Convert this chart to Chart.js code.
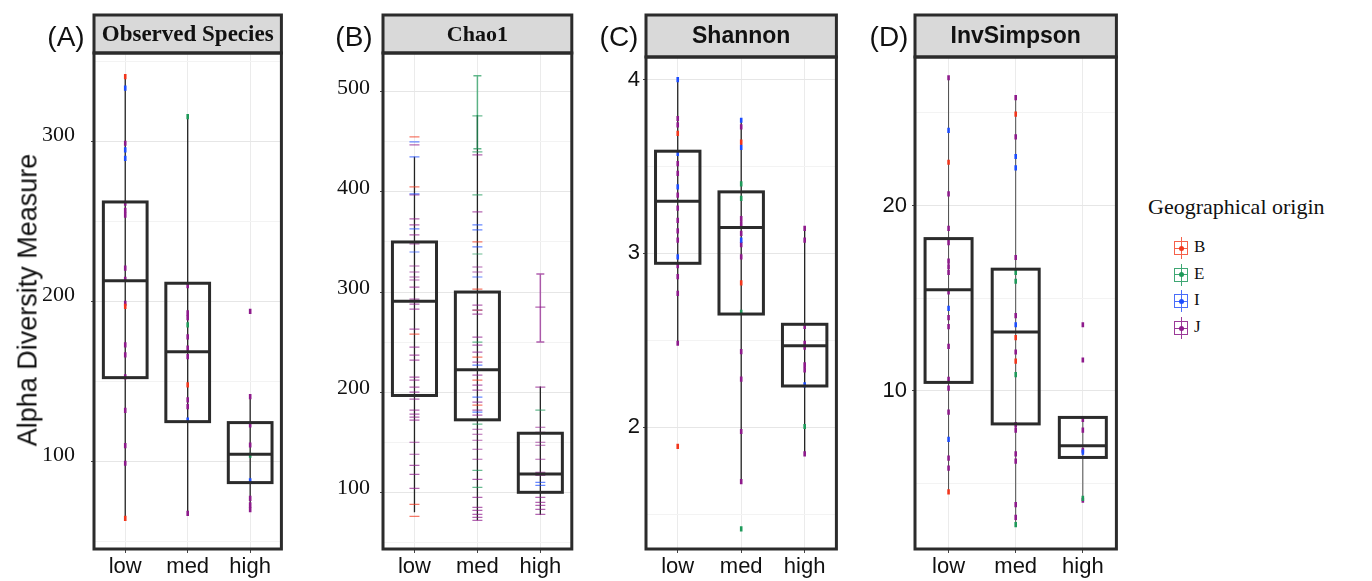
<!DOCTYPE html>
<html>
<head>
<meta charset="utf-8">
<script src="https://cdn.jsdelivr.net/npm/chart.js@4/dist/chart.umd.min.js"></script>
<style>
  body { margin: 0; background: #fff; width: 1372px; height: 581px; position: relative; overflow: hidden; }
  .cv { position: absolute; top: 0; }
  .tag { position: absolute; font: 28px "Liberation Sans", sans-serif; color: #111; transform: translate(-50%, -50%); }
  #ytitle { position: absolute; left: 28px; top: 300px; font: 27px "Liberation Sans", sans-serif; color: #111;
            transform: translate(-50%, -50%) rotate(-90deg); white-space: nowrap; }
  #legend { position: absolute; left: 1148px; top: 194px; font-family: "Liberation Serif", serif; color: #111; }
  #legend .ttl { font-size: 22px; height: 26px; margin-bottom: 17px; }
  #legend .item { position: relative; height: 26.7px; font-size: 17px; }
  #legend .item span { position: absolute; left: 46px; top: 0; }
  .key { position: absolute; left: 26px; top: 0; width: 14px; height: 22px; }
  .key .v { position: absolute; left: 6.5px; top: 0; width: 1px; height: 22px; }
  .key .b { position: absolute; left: 0; top: 4px; width: 12px; height: 12px; border: 1px solid; }
  .key .h { position: absolute; left: 0; top: 10.5px; width: 14px; height: 1px; }
  .key .d { position: absolute; left: 4.5px; top: 8.5px; width: 5px; height: 5px; border-radius: 50%; }
</style>
</head>
<body>
<canvas id="cA" class="cv" width="274" height="581" style="left:14px"></canvas>
<canvas id="cB" class="cv" width="275" height="581" style="left:303px"></canvas>
<canvas id="cC" class="cv" width="277" height="581" style="left:566px"></canvas>
<canvas id="cD" class="cv" width="288" height="581" style="left:835px"></canvas>
<div class="tag" style="left:66px;top:37px">(A)</div>
<div class="tag" style="left:354px;top:37px">(B)</div>
<div class="tag" style="left:619px;top:37px">(C)</div>
<div class="tag" style="left:889px;top:37px">(D)</div>
<div id="ytitle">Alpha Diversity Measure</div>
<div id="legend"><div class="ttl">Geographical origin</div></div>

<script>
// categories and groups
const cats = ["low", "med", "high"];
const groupNames = ["B", "E", "I", "J"];
const groupColors = ["#f2361c", "#1e9a5a", "#1c4dff", "#8e1a8c"];
const keyColors = ["#f5604a", "#3fa774", "#4a6dfa", "#9b3a98"];

// (A) Observed Species  -- [category (1=low,2=med,3=high), value]
const obsB = [[1,340.6],[1,197],[1,64.6],[2,148]];
const obsE = [[2,315.6],[2,185.5],[3,104]];
const obsI = [[1,333.4],[1,294.8],[1,289.6],[2,126],[3,88]];
const obsJ = [[1,299],[1,261.5],[1,257],[1,254],[1,221],[1,214],[1,199],[1,173],[1,166.7],[1,153],[1,132],[1,110],[1,99],
              [2,210],[2,193],[2,190],[2,178],[2,171],[2,165.6],[2,138.6],[2,134.4],[2,67.7],
              [3,193.9],[3,140.6],[3,123],[3,110.4],[3,77],[3,73],[3,70]];
const obsQ1 = [152.5, 125, 86.9];
const obsMed = [213, 168.7, 104.6];
const obsQ3 = [262.3, 211.5, 124.4];
const obsLo = [64.6, 67.7, 70];
const obsHi = [340.6, 315.6, 140.6];

// (B) Chao1
const chaoB = [[1,455],[1,405],[1,258],[1,88],[1,76],[2,350],[2,303],[2,282],[2,235],[2,212],[2,187]];
const chaoE = [[2,476],[2,440],[2,397],[2,338],[2,250],[2,168],[2,122],[2,105],[3,182]];
const chaoI = [[1,450],[1,435],[1,398],[1,363],[1,340],[2,367],[2,362],[2,345],[2,315],[2,282],[2,227],[2,195],[2,180],[3,110],[3,107]];
const chaoJ = [[1,447],[1,397],[1,373],[1,367],[1,357],[1,348],[1,326],[1,320],[1,315],[1,312],[1,305],[1,293],[1,288],[1,283],
               [1,263],[1,245],[1,237],[1,232],[1,215],[1,212],[1,205],[1,200],[1,193],[1,182],[1,178],[1,175],[1,172],
               [1,150],[1,138],[1,127],[1,118],[1,104],
               [2,437],[2,380],[2,325],[2,320],[2,300],[2,287],[2,278],[2,255],[2,247],[2,240],[2,230],[2,222],[2,217],
               [2,207],[2,202],[2,190],[2,182],[2,177],[2,172],[2,163],[2,158],[2,152],[2,143],[2,133],[2,113],[2,95],
               [2,85],[2,82],[2,78],[2,75],[2,72],
               [3,285],[3,205],[3,165],[3,160],[3,150],[3,147],[3,133],[3,120],[3,117],[3,100],[3,95],[3,90],[3,87],[3,83],[3,78]];
const chaoQ1 = [196.7, 172.4, 100];
const chaoMed = [290.7, 222.4, 118.4];
const chaoQ3 = [350, 300, 159];
const chaoLo = [80, 72, 77.7];
const chaoHi = [435, 476.7, 205.7];
// wide standard-error bars on Chao1
const errCat = [2, 3];
const errLo = [443, 250];
const errHi = [516, 318];
const errGroup = [1, 3];

// (C) Shannon
const shaB = [[1,3.69],[1,1.89],[2,3.64],[2,2.83]];
const shaE = [[2,3.40],[2,3.316],[2,2.66],[2,1.415],[3,2.004]];
const shaI = [[1,4.0],[1,3.575],[1,3.383],[1,2.98],[2,3.766],[2,3.61],[2,3.076],[3,2.243]];
const shaJ = [[1,3.776],[1,3.74],[1,3.517],[1,3.46],[1,3.335],[1,3.26],[1,3.19],[1,3.13],[1,3.076],[1,2.93],[1,2.866],[1,2.77],[1,2.483],
              [2,3.728],[2,3.20],[2,3.17],[2,3.115],[2,3.05],[2,2.98],[2,2.435],[2,2.276],[2,1.975],[2,1.687],
              [3,3.144],[3,3.076],[3,2.58],[3,2.483],[3,2.46],[3,2.358],[3,2.33],[3,1.846]];
const shaQ1 = [2.943, 2.651, 2.237];
const shaMed = [3.30, 3.149, 2.469];
const shaQ3 = [3.588, 3.354, 2.592];
const shaLo = [2.473, 1.687, 1.846];
const shaHi = [4.006, 3.766, 3.144];

// (D) InvSimpson
const invB = [[1,22.34],[1,4.55],[2,24.94],[2,12.88],[2,11.61]];
const invE = [[2,16.4],[2,15.92],[2,10.88],[2,2.78],[3,4.2]];
const invI = [[1,24.06],[1,14.45],[1,7.39],[2,22.65],[2,22.04],[2,13.57],[3,6.7]];
const invJ = [[1,26.9],[1,20.63],[1,18.77],[1,18.0],[1,17.0],[1,16.7],[1,16.4],[1,15.34],[1,13.96],[1,13.47],[1,12.4],
              [1,10.63],[1,10.15],[1,8.86],[1,6.37],[1,5.83],
              [2,25.83],[2,23.71],[2,17.2],[2,14.06],[2,12.1],[2,8.18],[2,7.88],[2,6.6],[2,6.21],[2,3.86],[2,3.18],
              [3,13.57],[3,11.67],[3,8.47],[3,7.88],[3,6.8],[3,4.1]];
const invQ1 = [10.46, 8.22, 6.41];
const invMed = [15.46, 13.18, 7.04];
const invQ3 = [18.22, 16.57, 8.57];
const invLo = [4.55, 2.78, 4.1];
const invHi = [26.9, 25.83, 8.57];

/**************************************************
 BOX / FRAME / STRIP PLUGIN
**************************************************/
const boxPlugin = {
  id: "boxes",
  beforeDatasetsDraw(chart, args, o) {
    const x = chart.scales.x, y = chart.scales.y, ctx = chart.ctx;
    ctx.save();
    ctx.strokeStyle = "#222";
    ctx.lineWidth = o.whisk;
    for (let i = 0; i < 3; i++) {
      const px = x.getPixelForValue(i + 1);
      ctx.beginPath();
      ctx.moveTo(px, y.getPixelForValue(o.lo[i]));
      ctx.lineTo(px, y.getPixelForValue(o.hi[i]));
      ctx.stroke();
    }
    if (o.err) {
      ctx.lineWidth = 1.5;
      o.err.cat.forEach((c, k) => {
        const px = x.getPixelForValue(c);
        const a = y.getPixelForValue(o.err.lo[k]), b = y.getPixelForValue(o.err.hi[k]);
        ctx.strokeStyle = groupColors[o.err.group[k]];
        ctx.globalAlpha = 0.7;
        ctx.beginPath();
        ctx.moveTo(px, a); ctx.lineTo(px, b);
        ctx.moveTo(px - 4, a); ctx.lineTo(px + 4, a);
        ctx.moveTo(px - 4, b); ctx.lineTo(px + 4, b);
        ctx.stroke();
      });
    }
    ctx.restore();
  },
  afterDatasetsDraw(chart, args, o) {
    const x = chart.scales.x, y = chart.scales.y, ctx = chart.ctx;
    ctx.save();
    ctx.strokeStyle = "#2b2b2b";
    ctx.lineWidth = 3;
    for (let i = 0; i < 3; i++) {
      const l = x.getPixelForValue(i + 1 - 0.35), r = x.getPixelForValue(i + 1 + 0.35);
      const t = y.getPixelForValue(o.q3[i]), b = y.getPixelForValue(o.q1[i]);
      const m = y.getPixelForValue(o.med[i]);
      ctx.strokeRect(l, t, r - l, b - t);
      ctx.beginPath();
      ctx.moveTo(l, m); ctx.lineTo(r, m);
      ctx.stroke();
    }
    ctx.restore();
  },
  afterDraw(chart, args, o) {
    const a = chart.chartArea, ctx = chart.ctx;
    ctx.save();
    ctx.lineWidth = 3;
    ctx.strokeStyle = "#2b2b2b";
    ctx.fillStyle = "#d9d9d9";
    ctx.fillRect(a.left, 15, a.right - a.left, a.top - 15);
    ctx.strokeRect(a.left, 15, a.right - a.left, a.top - 15);
    ctx.strokeRect(a.left, a.top, a.right - a.left, a.bottom - a.top);
    ctx.fillStyle = "#111";
    ctx.font = o.stripFont;
    ctx.textAlign = "center";
    ctx.textBaseline = "middle";
    ctx.fillText(o.strip, (a.left + a.right) / 2, (15 + a.top) / 2 + 1);
    ctx.restore();
  }
};

function toPts(arr) {
  return arr.map(p => ({ x: p[0], y: p[1] }));
}

function makePanel(id, p) {
  const datasets = p.groups.map((g, k) => ({
    label: groupNames[k],
    data: toPts(g),
    pointStyle: "line",
    rotation: p.caps ? 0 : 90,
    radius: p.caps ? 5 : 2.6,
    borderWidth: p.caps ? 1.2 : 2.6,
    borderColor: p.caps ? groupColors[k] + "aa" : groupColors[k],
    backgroundColor: groupColors[k],
    showLine: false
  }));
  new Chart(document.getElementById(id), {
    type: "scatter",
    data: { datasets },
    plugins: [boxPlugin],
    options: {
      responsive: false,
      animation: false,
      events: [],
      layout: { padding: { top: p.top, right: 6, bottom: 0, left: 0 } },
      plugins: {
        legend: { display: false },
        tooltip: { enabled: false },
        boxes: { q1: p.q1, med: p.med, q3: p.q3, lo: p.lo, hi: p.hi, err: p.err, whisk: p.whisk || 1.3,
                 strip: p.strip, stripFont: p.stripFont }
      },
      scales: {
        x: {
          type: "linear", min: 0.5, max: 3.5,
          afterFit: s => { s.height = 32; },
          afterBuildTicks: s => { s.ticks = [1, 2, 3].map(v => ({ value: v })); },
          border: { display: false },
          grid: { color: "#ebebeb", tickLength: 4, tickColor: "#444" },
          ticks: { callback: v => cats[v - 1], color: "#111", padding: 1,
                   font: { family: "Liberation Sans", size: 22 } }
        },
        y: {
          min: p.min, max: p.max,
          afterFit: s => { s.width = 80; },
          border: { display: false },
          grid: {
            color: c => p.major(c.tick.value) ? "#e6e6e6" : "#f3f3f3",
            tickLength: 3,
            tickColor: c => p.major(c.tick.value) ? "#444" : "rgba(0,0,0,0)"
          },
          ticks: {
            stepSize: p.step, includeBounds: false, padding: p.pad, labelOffset: p.labelOff,
            autoSkip: false, color: "#111",
            callback: v => p.major(v) ? String(v) : "",
            font: { family: p.tickFamily, size: 22 }
          }
        }
      }
    }
  });
}

makePanel("cA", {
  groups: [obsB, obsE, obsI, obsJ], q1: obsQ1, med: obsMed, q3: obsQ3, lo: obsLo, hi: obsHi,
  min: 45.4, max: 355.4, step: 50, major: v => v % 100 === 0, pad: 16, labelOff: -6, top: 53,
  tickFamily: "Liberation Serif", strip: "Observed Species", stripFont: 'bold 23px "Liberation Serif"'
});
makePanel("cB", {
  groups: [chaoB, chaoE, chaoI, chaoJ], q1: chaoQ1, med: chaoMed, q3: chaoQ3, lo: chaoLo, hi: chaoHi,
  err: { cat: errCat, lo: errLo, hi: errHi, group: errGroup }, caps: true,
  min: 43.4, max: 538.7, step: 50, major: v => v % 100 === 0, pad: 10, labelOff: -4, top: 53,
  tickFamily: "Liberation Serif", strip: "Chao1", stripFont: 'bold 22px "Liberation Serif"'
});
makePanel("cC", {
  groups: [shaB, shaE, shaI, shaJ], q1: shaQ1, med: shaMed, q3: shaQ3, lo: shaLo, hi: shaHi,
  min: 1.299, max: 4.13, step: 0.5, major: v => Math.abs(v - Math.round(v)) < 1e-6, pad: 3, labelOff: 0, top: 57,
  tickFamily: "Liberation Sans", strip: "Shannon", stripFont: 'bold 23px "Liberation Sans"'
});
makePanel("cD", {
  groups: [invB, invE, invI, invJ], q1: invQ1, med: invMed, q3: invQ3, lo: invLo, hi: invHi, whisk: 0.8,
  min: 1.47, max: 28.02, step: 5, major: v => v % 10 === 0, pad: 5, labelOff: 0, top: 57,
  tickFamily: "Liberation Sans", strip: "InvSimpson", stripFont: 'bold 23px "Liberation Sans"'
});

// legend
const legend = document.getElementById("legend");
groupNames.forEach((g, k) => {
  const c = keyColors[k];
  const item = document.createElement("div");
  item.className = "item";
  item.innerHTML =
    '<div class="key"><div class="v" style="background:' + c + '"></div>' +
    '<div class="b" style="border-color:' + c + '"></div>' +
    '<div class="h" style="background:' + c + '"></div>' +
    '<div class="d" style="background:' + groupColors[k] + '"></div></div>' +
    "<span>" + g + "</span>";
  legend.appendChild(item);
});
</script>
</body>
</html>
